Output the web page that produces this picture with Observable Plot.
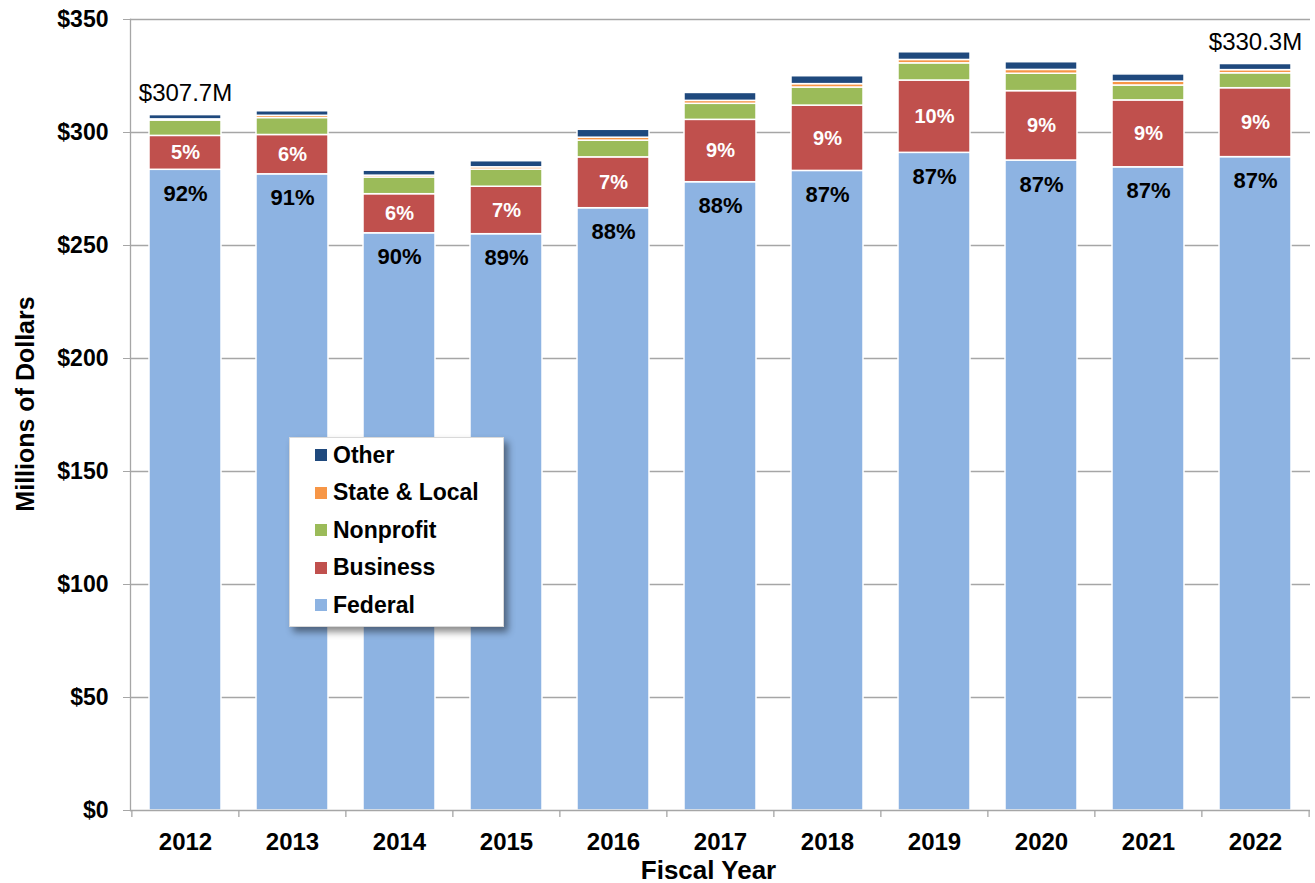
<!DOCTYPE html>
<html><head><meta charset="utf-8">
<script src="https://cdn.jsdelivr.net/npm/d3@7"></script>
<script src="https://cdn.jsdelivr.net/npm/@observablehq/plot@0.6"></script>
<style>
body{margin:0;background:#fff;}
#wrap{position:relative;width:1315px;height:883px;}
#legend{position:absolute;left:289px;top:437px;width:215px;height:190px;background:#fff;box-shadow:4px 5px 7px rgba(0,0,0,0.45);border:1px solid #d9d9d9;box-sizing:border-box;font-family:"Liberation Sans",Arial,sans-serif;font-weight:bold;font-size:23px;color:#000;}
.item{position:absolute;left:25px;display:flex;align-items:center;height:30px;white-space:nowrap;}
.sw{width:12px;height:12px;margin-right:6px;flex:none;}
</style></head>
<body>
<div id="wrap"><div id="chart"></div><div id="legend"></div></div>
<script>
const years = ["2012","2013","2014","2015","2016","2017","2018","2019","2020","2021","2022"];
const federal    = [283.5, 281.5, 255.4, 255.0, 266.5, 278.0, 283.0, 291.0, 287.6, 284.6, 289.1];
const business   = [15.0, 17.4, 17.3, 21.0, 22.5, 27.6, 28.9, 32.0, 30.7, 29.6, 30.5];
const nonprofit  = [6.8, 7.5, 7.4, 7.6, 7.4, 7.1, 8.0, 7.6, 7.7, 6.6, 6.6];
const stateLocal = [0.5, 1.0, 0.8, 1.0, 1.3, 1.3, 1.5, 1.5, 1.7, 1.7, 1.4];
const other      = [1.9, 2.0, 2.2, 2.7, 3.5, 3.5, 3.5, 3.4, 3.4, 3.2, 2.7];
const federalPct  = ["92%","91%","90%","89%","88%","88%","87%","87%","87%","87%","87%"];
const businessPct = ["5%","6%","6%","7%","7%","9%","9%","10%","9%","9%","9%"];
const totalYears  = ["2012","2022"];
const totalLabels = ["$307.7M","$330.3M"];
const seriesNames  = ["Federal","Business","Nonprofit","State & Local","Other"];
const seriesColors = ["#8DB3E2","#C0504D","#9BBB59","#F79646","#1F497D"];
const legendOrder  = ["Other","State & Local","Nonprofit","Business","Federal"];
const yTicks = [0,50,100,150,200,250,300,350];

const seriesValues = [federal, business, nonprofit, stateLocal, other];
const rows = [];
years.forEach((yr, i) => seriesNames.forEach((s, k) => rows.push({year: yr, series: s, value: seriesValues[k][i]})));
const totals = totalYears.map((yr, j) => {
  const i = years.indexOf(yr);
  return {year: yr, label: totalLabels[j], total: seriesValues.reduce((a, arr) => a + arr[i], 0)};
});

const W = 1315, H = 883, ML = 130, MR = 5, MT = 19, MB = 73;
const step = (W - ML - MR) / years.length;
const font = "'Liberation Sans', Arial, Helvetica, sans-serif";
const grid = "#a6a6a6";

const chart = Plot.plot({
  width: W, height: H, marginLeft: ML, marginRight: MR, marginTop: MT, marginBottom: MB,
  style: {fontFamily: font, background: "transparent", color: "#000"},
  x: {domain: years, paddingInner: 0.33, paddingOuter: 0.165, axis: null},
  y: {domain: [0, 350], axis: null},
  color: {domain: seriesNames, range: seriesColors},
  marks: [
    Plot.ruleY(yTicks.filter(d => d > 0), {stroke: grid, strokeWidth: 1.3}),
    Plot.frame({anchor: "left", stroke: grid, strokeWidth: 1.3}),
    Plot.barY(rows, {x: "year", y: "value", fill: "series", order: seriesNames, stroke: "white", strokeWidth: 1.5}),
    Plot.ruleY([0], {stroke: grid, strokeWidth: 1.3}),
    Plot.axisY({ticks: yTicks, tickFormat: d => "$" + d, tickSize: 7, tickPadding: 15, fontSize: 23, fontWeight: "bold", stroke: grid, fill: "#000", label: null}),
    Plot.axisX({tickSize: 0, tickPadding: 22, fontSize: 24, fontWeight: "bold", fill: "#000", label: null}),
    Plot.axisX({tickSize: 7, tickFormat: () => "", stroke: grid, strokeWidth: 1.3, dx: -step / 2, label: null}),
    Plot.axisX({ticks: [years[years.length - 1]], tickSize: 7, tickFormat: () => "", stroke: grid, strokeWidth: 1.3, dx: step / 2, label: null}),
    Plot.text(years, {x: d => d, y: (d, i) => federal[i], text: (d, i) => federalPct[i], dy: 24, fontSize: 22, fontWeight: "bold", fill: "#000"}),
    Plot.text(years, {x: d => d, y: (d, i) => federal[i] + business[i] / 2, text: (d, i) => businessPct[i], fontSize: 20, fontWeight: "bold", fill: "#fff"}),
    Plot.text(totals, {x: "year", y: "total", text: "label", dy: -14, lineAnchor: "bottom", fontSize: 24, fill: "#000"}),
    Plot.text(["Fiscal Year"], {frameAnchor: "bottom", textAnchor: "middle", dy: 68, dx: -12, fontSize: 26, fontWeight: "bold", fill: "#000"}),
    Plot.text(["Millions of Dollars"], {frameAnchor: "left", textAnchor: "middle", rotate: -90, dx: -105, dy: -11, fontSize: 25, fontWeight: "bold", fill: "#000"})
  ]
});
document.getElementById("chart").appendChild(chart);

const legend = document.getElementById("legend");
legendOrder.forEach((name, k) => {
  const item = document.createElement("div");
  item.className = "item";
  item.style.top = (18 + k * 37.5 - 15 - 1) + "px";
  const sw = document.createElement("span");
  sw.className = "sw";
  sw.style.background = seriesColors[seriesNames.indexOf(name)];
  const tx = document.createElement("span");
  tx.textContent = name;
  item.appendChild(sw); item.appendChild(tx);
  legend.appendChild(item);
});
</script>
</body></html>
